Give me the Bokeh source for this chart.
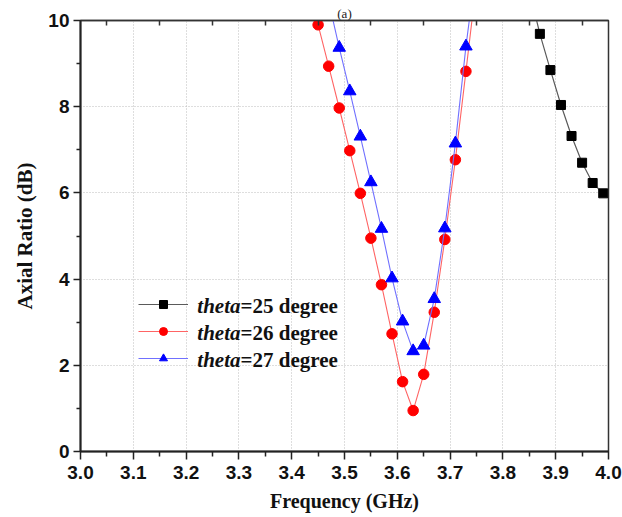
from bokeh.plotting import figure
from bokeh.models import (Range1d, LinearAxis, FixedTicker, Legend, LegendItem,
                          Label, PrintfTickFormatter)
from bokeh.embed import file_html
from bokeh.resources import INLINE

# ---- data ----
freq_25 = [3.85, 3.87, 3.89, 3.91, 3.93, 3.95, 3.97, 3.99]
ar_25 = [10.7, 9.69, 8.85, 8.04, 7.32, 6.70, 6.23, 5.99]

freq_26 = [3.43, 3.45, 3.47, 3.49, 3.51, 3.53, 3.55, 3.57, 3.59, 3.61, 3.63,
           3.65, 3.67, 3.69, 3.71, 3.73, 3.75]
ar_26 = [10.9, 9.90, 8.94, 7.97, 6.98, 5.99, 4.95, 3.87, 2.73, 1.62, 0.95,
         1.79, 3.23, 4.92, 6.77, 8.82, 10.9]

freq_27 = [3.47, 3.49, 3.51, 3.53, 3.55, 3.57, 3.59, 3.61, 3.63, 3.65, 3.67,
           3.69, 3.71, 3.73, 3.75]
ar_27 = [10.45, 9.37, 8.36, 7.31, 6.25, 5.17, 4.02, 3.02, 2.33, 2.46, 3.54,
         5.18, 7.15, 9.40, 11.3]

series_names = ["=25 degree", "=26 degree", "=27 degree"]
x_ticks = [3.0, 3.1, 3.2, 3.3, 3.4, 3.5, 3.6, 3.7, 3.8, 3.9, 4.0]
x_minor = [3.05, 3.15, 3.25, 3.35, 3.45, 3.55, 3.65, 3.75, 3.85, 3.95]
y_ticks = [0, 2, 4, 6, 8, 10]
y_minor = [1, 3, 5, 7, 9]

# ---- layout constants ----
W, H = 622, 517
L, R, T, B = 80, 14, 20, 66
TICK_FONT = "Liberation Sans"
SERIF = "Liberation Serif"

p = figure(width=W, height=H, x_range=Range1d(3.0, 4.0), y_range=Range1d(0, 10),
           output_backend="svg", toolbar_location=None,
           min_border_left=L, min_border_right=R, min_border_top=T,
           min_border_bottom=B, title="(a)")
p.background_fill_color = "white"
p.border_fill_color = "white"
p.outline_line_color = "#333333"
p.outline_line_width = 1.5
p.title.align = "center"
p.title.text_font = SERIF
p.title.text_font_style = "normal"
p.title.text_font_size = "13px"
p.title.text_color = "#222222"
p.title.standoff = 0
p.title.offset = 0

frame_w = W - L - R
frame_h = H - T - B
px_per_x = frame_w / 1.0
px_per_y = frame_h / 10.0

# axes
xa = p.xaxis[0]
xa.ticker = FixedTicker(ticks=x_ticks, minor_ticks=x_minor)
xa.formatter = PrintfTickFormatter(format="%.1f")
ya = p.yaxis[0]
ya.ticker = FixedTicker(ticks=y_ticks, minor_ticks=y_minor)
ya.formatter = PrintfTickFormatter(format="%.0f")
for ax in (xa, ya):
    ax.axis_line_color = "#222222"
    ax.axis_line_width = 2
    ax.major_tick_line_color = "#222222"
    ax.minor_tick_line_color = "#222222"
    ax.major_tick_line_width = 1.5
    ax.minor_tick_line_width = 1.5
    ax.major_tick_in = 0
    ax.minor_tick_in = 0
    ax.major_label_text_font = TICK_FONT
    ax.major_label_text_font_style = "bold"
    ax.major_label_text_font_size = "19px"
    ax.major_label_text_color = "#111111"
    ax.axis_label_text_font = SERIF
    ax.axis_label_text_font_style = "bold"
    ax.axis_label_text_color = "#111111"
xa.major_tick_out = 8
xa.minor_tick_out = 5
xa.major_label_standoff = 6
xa.axis_label_standoff = 8
xa.axis_label = "Frequency (GHz)"
xa.axis_label_text_font_size = "20px"
ya.major_tick_out = 7
ya.minor_tick_out = 4
ya.major_label_standoff = 4
ya.axis_label_standoff = 8
ya.axis_label = "Axial Ratio (dB)"
ya.axis_label_text_font_size = "21px"

top = LinearAxis(ticker=FixedTicker(ticks=[], minor_ticks=x_minor),
                 major_tick_in=0, major_tick_out=0,
                 minor_tick_in=5, minor_tick_out=0,
                 minor_tick_line_color="#333333", minor_tick_line_width=1.5,
                 axis_line_color="#333333", axis_line_width=1.5,
                 major_label_standoff=0,
                 major_label_text_font_size="0px")
p.add_layout(top, "above")

# grid
p.xgrid.ticker = FixedTicker(ticks=x_ticks)
p.ygrid.ticker = FixedTicker(ticks=y_ticks)
for g in (p.xgrid[0], p.ygrid[0]):
    g.grid_line_color = "#bdbdbd"
    g.grid_line_dash = "1 2"
    g.grid_line_width = 1

# series
l25 = p.line(freq_25, ar_25, line_color="#5a5a5a", line_width=1.2)
s25 = p.scatter(freq_25, ar_25, marker="square", size=9,
                fill_color="black", line_color="black")
l26 = p.line(freq_26, ar_26, line_color="#ff6464", line_width=1.1)
s26 = p.scatter(freq_26, ar_26, marker="circle", size=10.5,
                fill_color="#ff0000", line_color="#ff0000")
l27 = p.line(freq_27, ar_27, line_color="#7070ff", line_width=1.1)
s27 = p.scatter(freq_27, ar_27, marker="triangle", size=12.5,
                fill_color="#0000ff", line_color="#0000ff")

# legend samples (labels drawn separately for mixed italic/bold)
leg_left_px, leg_top_px, row_h, row_gap = 138, 294, 20, 7
legend_h = 3 * row_h + 2 * row_gap
legend = Legend(items=[LegendItem(label=" ", renderers=[l25, s25]),
                       LegendItem(label=" ", renderers=[l26, s26]),
                       LegendItem(label=" ", renderers=[l27, s27])],
                location=(leg_left_px - L, (H - B) - (leg_top_px + legend_h)),
                glyph_width=50, glyph_height=row_h, label_height=row_h,
                spacing=row_gap, padding=0, margin=0, label_standoff=0,
                border_line_alpha=0, background_fill_alpha=0,
                label_text_font_size="1px")
p.add_layout(legend, "center")

split_px = 240
for i, name in enumerate(series_names):
    cy_px = leg_top_px + row_h / 2 + i * (row_h + row_gap) + 1
    yv = ((H - B) - cy_px) / px_per_y
    xv = 3.0 + (split_px - L) / px_per_x
    p.add_layout(Label(x=xv, y=yv, text="theta", text_align="right",
                       text_baseline="middle", text_font=SERIF,
                       text_font_style="bold italic", text_font_size="21px",
                       text_color="#111111"))
    p.add_layout(Label(x=xv, y=yv, text=name, text_align="left",
                       text_baseline="middle", text_font=SERIF,
                       text_font_style="bold", text_font_size="21px",
                       text_color="#111111"))

open("out.html", "w").write(file_html(p, INLINE))
